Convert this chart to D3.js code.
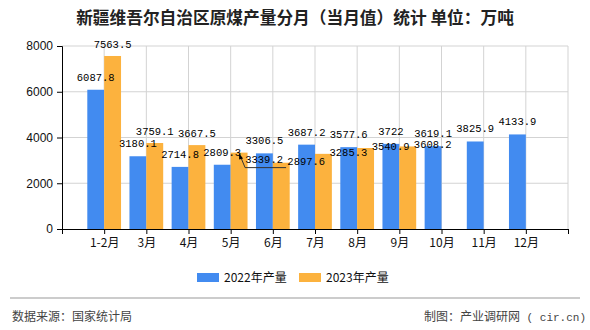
<!DOCTYPE html>
<html><head><meta charset="utf-8">
<script src="https://cdn.jsdelivr.net/npm/d3@7"></script>
<style>
html,body{margin:0;padding:0;background:#fff;}
svg{display:block;}
</style></head>
<body>
<svg id="chart" width="590" height="330"></svg>
<script>
const categories = ["1-2月","3月","4月","5月","6月","7月","8月","9月","10月","11月","12月"];
const values2022 = [6087.8,3180.1,2714.8,2809.3,3306.5,3687.2,3577.6,3722,3619.1,3825.9,4133.9];
const values2023 = [7563.5,3759.1,3667.5,3339.2,2897.6,3285.3,3540.9,3608.2];
const yTicks = [0,2000,4000,6000,8000];
const seriesNames = ["2022年产量","2023年产量"];
const title = "新疆维吾尔自治区原煤产量分月（当月值）统计  单位：万吨";
const sourceText = "数据来源：国家统计局";
const creditText = "制图：产业调研网";
const creditSite = "( cir.cn)";

const colors = ["#428bf0","#fcb23e"];
const svg = d3.select("#chart");
const cjk = "'Noto Sans CJK SC','Noto Sans',sans-serif";
const mono = "'Liberation Mono','DejaVu Sans Mono',monospace";

const x = d3.scaleLinear().domain([0, categories.length + 1]).range([62, 568]);
const y = d3.scaleLinear().domain([0, 8000]).range([229, 46]);
const step = x(1) - x(0);
const bw = step * 0.4;

// title
svg.append("text").attr("x", 295).attr("y", 24).attr("text-anchor","middle")
  .style("font-family", cjk).style("font-size","16.7px").style("font-weight","bold").attr("fill","#222")
  .text(title);

// gridlines
const g = svg.append("g");
g.selectAll("line.h").data(yTicks.filter(d=>d>0)).join("line")
  .attr("x1", x(0)).attr("x2", x(categories.length+1))
  .attr("y1", d=>y(d)).attr("y2", d=>y(d)).attr("stroke","#d3d3d3").attr("stroke-width",1);
g.selectAll("line.v").data(d3.range(1, categories.length+2)).join("line")
  .attr("x1", d=>x(d)).attr("x2", d=>x(d))
  .attr("y1", y(0)).attr("y2", y(8000)).attr("stroke","#d3d3d3").attr("stroke-width",1);

// bars
svg.append("g").selectAll("rect").data(values2022).join("rect")
  .attr("x",(d,i)=>x(i+1)-bw).attr("width",bw)
  .attr("y",d=>y(d)).attr("height",d=>y(0)-y(d)).attr("fill",colors[0]);
svg.append("g").selectAll("rect").data(values2023).join("rect")
  .attr("x",(d,i)=>x(i+1)).attr("width",bw)
  .attr("y",d=>y(d)).attr("height",d=>y(0)-y(d)).attr("fill",colors[1]);

// axes
const yAxis = d3.axisLeft(y).tickValues(yTicks).tickSize(5).tickPadding(4).tickFormat(d3.format("d"));
const ya = svg.append("g").attr("transform",`translate(${x(0)},0)`).call(yAxis);
ya.select(".domain").attr("stroke","#000");
ya.selectAll(".tick line").attr("stroke","#000");
ya.selectAll("text").style("font-family","'Liberation Sans',Arial,sans-serif").style("font-size","12px").attr("fill","#111");

const xAxis = d3.axisBottom(x).tickValues(d3.range(0, categories.length+2)).tickSize(5).tickPadding(4)
  .tickFormat(d => (d>=1 && d<=categories.length) ? categories[d-1] : "");
const xa = svg.append("g").attr("transform",`translate(0,${y(0)})`).call(xAxis);
xa.select(".domain").attr("stroke","#000");
xa.selectAll(".tick line").attr("stroke","#000");
xa.selectAll("text").style("font-family", cjk).style("font-size","12px").attr("fill","#111");

// value labels
const lbl = svg.append("g").style("font-family", mono).style("font-size","10.5px").attr("fill","#000").attr("text-anchor","middle");
values2022.forEach((v,i)=>{
  lbl.append("text").attr("x", x(i+1)-bw/2).attr("y", y(v)-9).text(v);
});
values2023.forEach((v,i)=>{
  const cx = x(i+1)+bw/2, top = y(v);
  if (i < 3) {
    lbl.append("text").attr("x", cx).attr("y", top-8).text(v);
  } else if (i === 3) {
    lbl.append("text").attr("x", cx+25).attr("y", top+10).text(v);
    svg.append("path").attr("d", `M${cx+1},${top+3} L${cx+6},${top+15} L${cx+47},${top+15}`)
      .attr("fill","none").attr("stroke","#333").attr("stroke-width",1);
    svg.append("path").attr("d", `M${cx},${top+1} L${cx+4},${top+6} L${cx},${top+7} Z`).attr("fill","#000");
  } else {
    lbl.append("text").attr("x", cx+25).attr("y", top+2).text(v);
  }
});

// legend
const leg = svg.append("g");
[197, 299].forEach((lx, k)=>{
  leg.append("rect").attr("x", lx).attr("y", 273).attr("width", 22).attr("height", 9).attr("fill", colors[k]);
  leg.append("text").attr("x", lx+27).attr("y", 282).style("font-family", cjk).style("font-size","12px")
    .attr("fill","#111").text(seriesNames[k]);
});

// footer
svg.append("line").attr("x1",10).attr("x2",580).attr("y1",298).attr("y2",298).attr("stroke","#999").attr("stroke-width",1);
svg.append("text").attr("x",12).attr("y",321).style("font-family",cjk).style("font-size","12px").attr("fill","#444").text(sourceText);
const cr = svg.append("text").attr("x",586).attr("y",321).attr("text-anchor","end").style("font-family",cjk).style("font-size","12px").attr("fill","#444");
cr.append("tspan").text(creditText);
cr.append("tspan").style("font-family", mono).style("font-size","11px").text(" " + creditSite);
</script>
</body></html>
